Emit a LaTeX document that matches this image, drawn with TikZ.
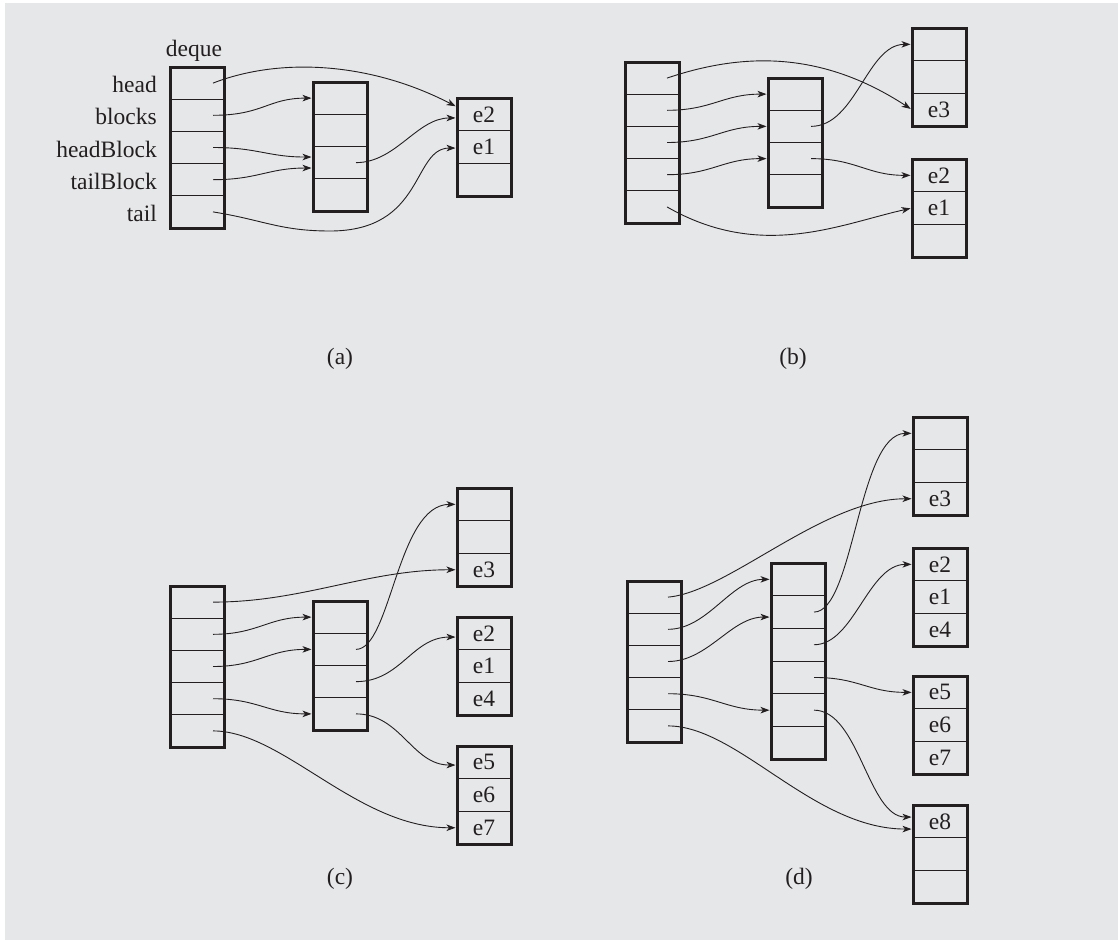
\documentclass[tikz,border=0pt]{standalone}
\usepackage{fontspec}
\setmainfont{Liberation Serif}
\usetikzlibrary{arrows.meta}
\definecolor{bg}{RGB}{230,231,233}
\definecolor{ink}{RGB}{35,31,32}
\tikzset{
 cell/.style={draw=ink, line width=1.1pt, minimum width=54pt, inner sep=0pt, outer sep=0pt, anchor=north west, font=\fontsize{23.5}{26}\selectfont, text=ink},
 frame/.style={draw=ink, line width=3pt, line join=miter},
 lbl/.style={font=\fontsize{23.5}{26}\selectfont, text=ink, inner sep=0pt},
 arr/.style={draw=ink, line width=0.9pt, -{Stealth[length=9pt,width=6.5pt,inset=2.5pt]}, shorten >=1.5pt},
}
\newcommand\blk[6]{%
  \foreach \t [count=\i] in {#6}{%
    \node[cell, minimum height=#4pt] (#1\i) at (#2,{#3+(\i-1)*#4}) {\t};
  }%
  \draw[frame] (#11.north west) rectangle (#1#5.south east);
}
\begin{document}
\begin{tikzpicture}[x=1pt,y=-1pt]
\fill[white] (0,0) rectangle (1118,940);
\fill[bg] (5,3) rectangle (1118,940);
\useasboundingbox (0,0) rectangle (1118,940);

% ---------- (a)
\blk{aL}{170}{67}{32.2}{5}{{},{},{},{},{}}
\blk{aM}{313}{82}{32.25}{4}{{},{},{},{}}
\blk{aR}{457}{98}{32.7}{3}{e2,e1,{}}
\node[lbl, anchor=base] (dq) at ([xshift=-3pt,yshift=11pt]aL1.north) {deque};
\node[lbl, anchor=base east] (lh) at ([xshift=-13pt,yshift=-9.5pt]aL1.west) {head};
\node[lbl, anchor=base east] (lb) at ([xshift=-13pt,yshift=-9.5pt]aL2.west) {blocks};
\node[lbl, anchor=base east] (lhb) at ([xshift=-13pt,yshift=-9.5pt]aL3.west) {headBlock};
\node[lbl, anchor=base east] (ltb) at ([xshift=-13pt,yshift=-9.5pt]aL4.west) {tailBlock};
\node[lbl, anchor=base east] (lt) at ([xshift=-13pt,yshift=-9.5pt]aL5.west) {tail};
\draw[arr] ([xshift=-11pt]aL1.east) .. controls +(67,-26) and +(-87,-45) .. ([yshift=7.4pt]aR1.west);
\draw[arr] ([xshift=-11pt]aL2.east) .. controls +(50,0) and +(-45,0) .. (aM1.west);
\draw[arr] ([xshift=-11pt]aL3.east) .. controls +(45,0) and +(-45,0) .. ([yshift=5.6pt]aM3.west);
\draw[arr] ([xshift=-11pt]aL4.east) .. controls +(45,0) and +(-45,0) .. ([yshift=-5.4pt]aM3.west);
\draw[arr] ([xshift=-11pt]aM3.east) .. controls +(40,0) and +(-40,0) .. ([yshift=-3.6pt]aR1.west);
\draw[arr] ([xshift=-11pt]aL5.east) .. controls +(50,8) and +(-50,0) .. (330,231) .. controls +(95,0) and +(-45,0) .. ([yshift=-1pt]aR2.west);
\node[lbl] (capa) at (340,359) {(a)};

% ---------- (b)
\blk{bL}{625}{62}{32.2}{5}{{},{},{},{},{}}
\blk{bM}{768}{78}{32.25}{4}{{},{},{},{}}
\blk{bT}{912}{28}{32.7}{3}{{},{},e3}
\blk{bB}{912}{159}{32.7}{3}{e2,e1,{}}
\draw[arr] ([xshift=-12pt]bL1.east) .. controls +(74,-25) and +(-92,-60) .. (bT3.west);
\draw[arr] ([xshift=-12pt]bL2.east) .. controls +(45,0) and +(-45,0) .. (bM1.west);
\draw[arr] ([xshift=-12pt]bL3.east) .. controls +(45,0) and +(-45,0) .. (bM2.west);
\draw[arr] ([xshift=-12pt]bL4.east) .. controls +(45,0) and +(-45,0) .. (bM3.west);
\draw[arr] ([xshift=-12pt]bL5.east) .. controls +(94,54) and +(-72,16) .. (bB2.west);
\draw[arr] ([xshift=-11pt]bM2.east) .. controls +(45,0) and +(-45,0) .. (bT1.west);
\draw[arr] ([xshift=-11pt]bM3.east) .. controls +(45,0) and +(-45,0) .. (bB1.west);
\node[lbl] (capb) at (793,359) {(b)};

% ---------- (c)
\blk{cL}{170}{586}{32.2}{5}{{},{},{},{},{}}
\blk{cM}{313}{601}{32.25}{4}{{},{},{},{}}
\blk{cT}{457}{488}{32.7}{3}{{},{},e3}
\blk{cR}{457}{617}{32.7}{3}{e2,e1,e4}
\blk{cB}{457}{746}{32.7}{3}{e5,e6,e7}
\draw[arr] ([xshift=-11pt]cL1.east) .. controls +(90,0) and +(-90,0) .. (cT3.west);
\draw[arr] ([xshift=-11pt]cL2.east) .. controls +(45,0) and +(-45,0) .. (cM1.west);
\draw[arr] ([xshift=-11pt]cL3.east) .. controls +(45,0) and +(-45,0) .. (cM2.west);
\draw[arr] ([xshift=-11pt]cL4.east) .. controls +(45,0) and +(-45,0) .. (cM4.west);
\draw[arr] ([xshift=-11pt]cL5.east) .. controls +(70,0) and +(-100,0) .. (cB3.west);
\draw[arr] ([xshift=-11pt]cM2.east) .. controls +(35,0) and +(-60,0) .. (cT1.west);
\draw[arr] ([xshift=-11pt]cM3.east) .. controls +(45,0) and +(-45,0) .. ([yshift=-3.7pt]cR1.west);
\draw[arr] ([xshift=-11pt]cM4.east) .. controls +(45,0) and +(-45,0) .. ([yshift=-2.7pt]cB1.west);
\node[lbl] (capc) at (340,879) {(c)};

% ---------- (d)
\blk{dL}{627}{581}{32.2}{5}{{},{},{},{},{}}
\blk{dM}{771}{563}{32.7}{6}{{},{},{},{},{},{}}
\blk{dT}{913}{417}{32.7}{3}{{},{},e3}
\blk{dR}{913}{548}{32.7}{3}{e2,e1,e4}
\blk{dN}{913}{676}{32.7}{3}{e5,e6,e7}
\blk{dB}{913}{805}{32.7}{3}{e8,{},{}}
\draw[arr] ([xshift=-13pt]dL1.east) .. controls +(60,-5) and +(-90,0) .. (dT3.west);
\draw[arr] ([xshift=-13pt]dL2.east) .. controls +(40,0) and +(-40,0) .. (dM1.west);
\draw[arr] ([xshift=-13pt]dL3.east) .. controls +(40,0) and +(-40,0) .. ([yshift=-5pt]dM2.west);
\draw[arr] ([xshift=-13pt]dL4.east) .. controls +(45,0) and +(-45,0) .. (dM5.west);
\draw[arr] ([xshift=-13pt]dL5.east) .. controls +(70,0) and +(-100,0) .. ([yshift=-7.7pt]dB1.west);
\draw[arr] ([xshift=-11pt]dM2.east) .. controls +(40,0) and +(-55,0) .. (dT1.west);
\draw[arr] ([xshift=-11pt]dM3.east) .. controls +(40,0) and +(-45,0) .. (dR1.west);
\draw[arr] ([xshift=-11pt]dM4.east) .. controls +(45,0) and +(-45,0) .. (dN1.west);
\draw[arr] ([xshift=-11pt]dM5.east) .. controls +(45,0) and +(-45,0) .. ([yshift=4.3pt]dB1.west);
\node[lbl] (capd) at (799,879) {(d)};
\end{tikzpicture}
\end{document}
